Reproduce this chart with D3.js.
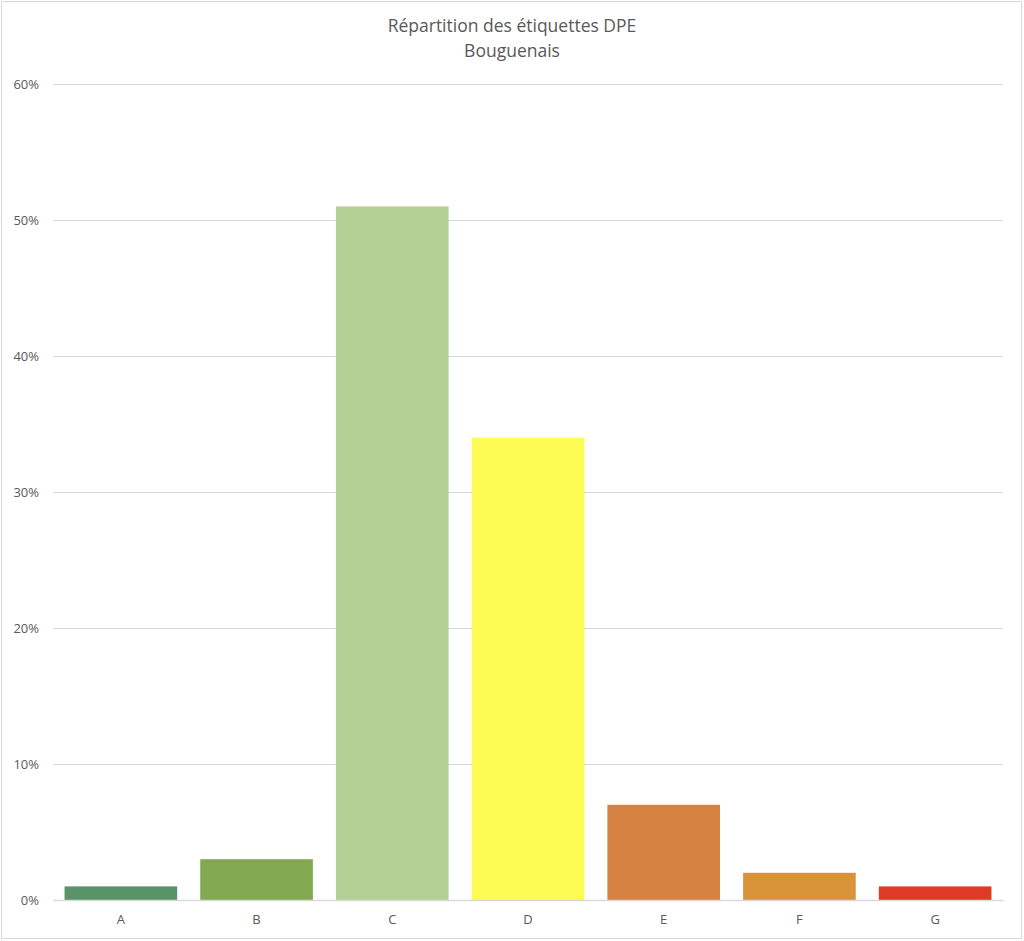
<!DOCTYPE html>
<html>
<head>
<meta charset="utf-8">
<script src="https://cdn.jsdelivr.net/npm/d3@7"></script>
<style>
  body { margin: 0; background: #fff; }
  text { font-family: "Open Sans", "Noto Sans", sans-serif; fill: #595959; }
</style>
</head>
<body>
<div id="chart"></div>
<script>
// DPE labels and their share
var labels = ["A", "B", "C", "D", "E", "F", "G"];
var shares = [0.01, 0.03, 0.51, 0.34, 0.07, 0.02, 0.01];
var barColors = ["#5a9367", "#82a952", "#b5d094", "#fcfc55", "#d68242", "#d99439", "#de3a25"];
var yTicks = [0, 0.1, 0.2, 0.3, 0.4, 0.5, 0.6];
var titleLines = ["Répartition des étiquettes DPE", "Bouguenais"];

var W = 1024, H = 941;
var margin = { top: 84, right: 21, bottom: 41, left: 53 };
var width = W - margin.left - margin.right;
var height = H - margin.top - margin.bottom;

var svg = d3.select("#chart").append("svg")
  .attr("width", W)
  .attr("height", H);

// outer frame
svg.append("rect")
  .attr("x", 1.5).attr("y", 1.5)
  .attr("width", W - 4).attr("height", H - 4)
  .attr("fill", "#fff")
  .attr("stroke", "#d9d9d9")
  .attr("stroke-width", 1);

// title
svg.selectAll("text.title")
  .data(titleLines)
  .enter().append("text")
  .attr("class", "title")
  .attr("x", 512)
  .attr("y", function (d, i) { return 32 + i * 25; })
  .attr("text-anchor", "middle")
  .style("font-size", "17.5px")
  .text(function (d) { return d; });

var g = svg.append("g")
  .attr("transform", "translate(" + margin.left + "," + margin.top + ")");

var x = d3.scaleBand()
  .domain(labels)
  .range([0, width])
  .paddingInner(0.17)
  .paddingOuter(0.085);

var y = d3.scaleLinear()
  .domain([0, 0.6])
  .range([height, 0]);

// gridlines
g.selectAll("line.grid")
  .data(yTicks.slice(1))
  .enter().append("line")
  .attr("class", "grid")
  .attr("x1", 0).attr("x2", width)
  .attr("y1", function (d) { return Math.round(y(d)) + 0.5; })
  .attr("y2", function (d) { return Math.round(y(d)) + 0.5; })
  .attr("stroke", "#d9d9d9")
  .attr("stroke-width", 1);

// y axis labels
var yAxis = g.append("g")
  .call(d3.axisLeft(y).tickValues(yTicks).tickFormat(d3.format(".0%")).tickSize(0).tickPadding(14));
yAxis.select(".domain").remove();
yAxis.selectAll("text").style("font-size", "13px").attr("fill", "#595959");

// bars
g.selectAll("rect.bar")
  .data(shares)
  .enter().append("rect")
  .attr("class", "bar")
  .attr("x", function (d, i) { return x(labels[i]); })
  .attr("y", function (d) { return y(d); })
  .attr("width", x.bandwidth())
  .attr("height", function (d) { return height - y(d); })
  .attr("fill", function (d, i) { return barColors[i]; });

// x axis
var xAxis = g.append("g")
  .attr("transform", "translate(0," + height + ")")
  .call(d3.axisBottom(x).tickSize(0).tickPadding(15));
xAxis.select(".domain").attr("stroke", "#d9d9d9").attr("stroke-width", 1.5);
xAxis.selectAll("text").style("font-size", "13px").attr("fill", "#595959");
</script>
</body>
</html>
